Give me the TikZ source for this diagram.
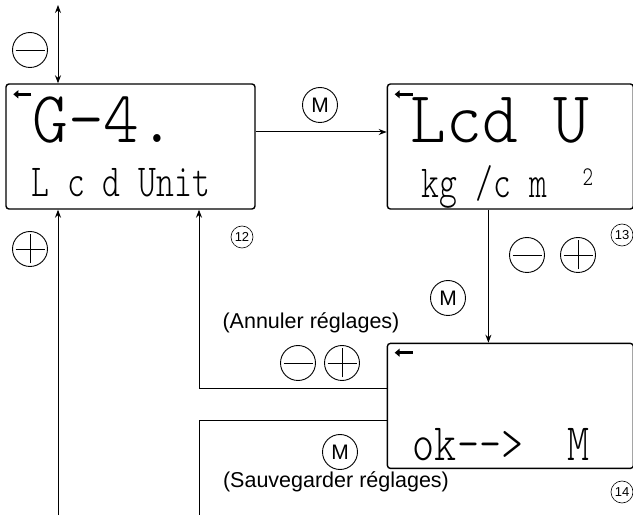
\documentclass[tikz,border=0pt]{standalone}
\usepackage{fontspec}
\setmainfont{Liberation Sans}
\newcommand\lcdfont{\ttfamily\fontseries{l}\selectfont}
\usepackage{graphicx}
\usetikzlibrary{arrows.meta, positioning}

\begin{document}
\begin{tikzpicture}[
    x=1pt, y=1pt,
    node distance=131pt,
    lcd/.style={
        rectangle,
        draw,
        rounded corners=3pt,
        line width=1.4pt,
        minimum width=246pt,
        minimum height=125pt,
        inner sep=0pt
    },
    lcdbig/.style={
        inner sep=0pt,
        anchor=base west,
        font=\lcdfont\fontsize{68}{68}\selectfont
    },
    lcdsmall/.style={
        inner sep=0pt,
        anchor=base west,
        font=\lcdfont\fontsize{34}{34}\selectfont
    },
    lcdmark/.style={line width=3pt, -{Triangle[length=5pt,width=8pt]}},
    btn/.style={
        circle,
        draw,
        line width=0.9pt,
        minimum size=35pt,
        inner sep=0pt
    },
    minusbtn/.style={btn, path picture={
        \draw[line width=0.9pt] ([xshift=3pt]path picture bounding box.west)
            -- ([xshift=-3pt]path picture bounding box.east);}},
    plusbtn/.style={btn, path picture={
        \draw[line width=0.9pt] ([xshift=3pt]path picture bounding box.west)
            -- ([xshift=-3pt]path picture bounding box.east);
        \draw[line width=0.9pt] ([yshift=3pt]path picture bounding box.south)
            -- ([yshift=-3pt]path picture bounding box.north);}},
    mbtn/.style={btn, font=\fontsize{21}{21}\selectfont},
    numtag/.style={
        circle,
        draw,
        line width=0.6pt,
        minimum size=22pt,
        inner sep=0pt,
        font=\fontsize{13}{13}\selectfont
    },
    lbl/.style={font=\fontsize{21.5}{24}\selectfont, inner sep=0pt},
    arr/.style={-{Stealth[length=8pt,width=6pt]}, line width=1pt},
    arrboth/.style={{Stealth[length=8pt,width=6pt]}-{Stealth[length=8pt,width=6pt]}, line width=1pt}
]
\useasboundingbox (0,0) rectangle (633,515);

% LCD screens
\node (b12) [lcd, minimum width=249pt] at (130.5,368.5) {};
\node (b13) [lcd, right=of b12] {};
\node (b14) [lcd, below=133pt of b13] {};

% screen contents
\node (t12a) [lcdbig] at ([xshift=27pt,yshift=-59pt]b12.north west) {\scalebox{1}[1.08]{G-4.}};
\node (t12b) [lcdsmall] at ([xshift=26pt,yshift=-113pt]b12.north west) {\scalebox{1}[1.35]{L c d Unit}};
\node (t13a) [lcdbig] at ([xshift=24pt,yshift=-59pt]b13.north west) {\scalebox{1}[1.08]{Lcd U}};
\node (t13b) [lcdsmall] at ([xshift=35pt,yshift=-114pt]b13.north west) {\scalebox{1}[1.35]{kg /c m\ \ \raisebox{0.6ex}{\fontsize{20}{20}\selectfont 2}}};
\node (t14b) [lcdsmall, font=\lcdfont\fontsize{42}{42}\selectfont] at ([xshift=26pt,yshift=-118pt]b14.north west) {\scalebox{1}[1.25]{ok-->\ \ M}};

\draw[lcdmark] ([xshift=26pt,yshift=-11pt]b12.north west) -- ++(-18,0);
\draw[lcdmark] ([xshift=26pt,yshift=-11pt]b13.north west) -- ++(-18,0);
\draw[lcdmark] ([xshift=26pt,yshift=-10pt]b14.north west) -- ++(-18,0);

% keys and tags
\node (minTop) [minusbtn] at (30,465) {};
\node (plusLeft) [plusbtn] at (30,266) {};
\node (mTop) [mbtn] at (320,410) {M};
\node (n12) [numtag] at (242,278) {12};
\node (n13) [numtag] at (622,280) {13};
\node (minMid) [minusbtn] at (527,260) {};
\node (plusMid) [plusbtn] at (578,260) {};
\node (mMid) [mbtn] at (448,217) {M};
\node (cancel) [lbl] at (311,192) {(Annuler réglages)};
\node (minLow) [minusbtn] at (298,152) {};
\node (plusLow) [plusbtn] at (342,152) {};
\node (mLow) [mbtn] at (340,63) {M};
\node (save) [lbl] at (336,33) {(Sauvegarder réglages)};
\node (n14) [numtag] at (622,23) {14};

% free ends
\coordinate (top) at (58,510);
\coordinate (bottom) at (58,0);
\coordinate (cancelc) at (199,126);
\coordinate (savec) at (199,94);
\coordinate (saveEnd) at (199,0);

% connectors
\draw[arrboth] (top) -- (top |- b12.north);
\draw[arr] (bottom) -- (bottom |- b12.south);
\draw[arr] ([yshift=14.5pt]b12.east) -- ([yshift=14.5pt]b13.west);
\draw[arr] ([xshift=-22pt]b13.south) -- ([xshift=-22pt]b14.north);
\draw[arr] (b14.west |- cancelc) -- (cancelc) -- (cancelc |- b12.south);
\draw[line width=1pt] (b14.west |- savec) -- (savec) -- (saveEnd);

\end{tikzpicture}
\end{document}
